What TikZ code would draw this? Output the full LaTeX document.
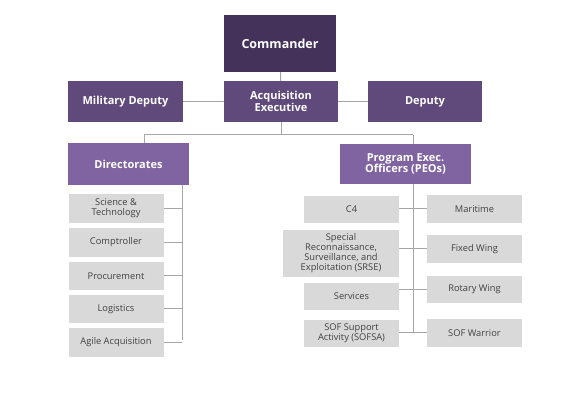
\documentclass[tikz,border=0pt]{standalone}
\usepackage{fontspec}
\setmainfont{Open Sans}
\usepackage{xcolor}
\definecolor{mydark}{HTML}{44325A}
\definecolor{mypurple}{HTML}{604A7B}
\definecolor{mylilac}{HTML}{8064A2}
\definecolor{mygray}{HTML}{D9D9D9}
\definecolor{myline}{HTML}{A6A6A6}
\definecolor{mytext}{HTML}{404040}
\begin{document}
\begin{tikzpicture}[x=1pt,y=-1pt,
head/.style={fill=#1,text=white,font=\fontsize{11}{11.5}\selectfont\bfseries,align=center,inner sep=0pt},
unit/.style={fill=mygray,text=mytext,font=\fontsize{9.3}{10}\selectfont,align=center,inner sep=0pt,minimum width=95pt},
link/.style={draw=myline,line width=1pt}]
\useasboundingbox (0,0) rectangle (576,403);
% top row
\node [head=mydark,minimum width=112pt,minimum height=57pt,font=\fontsize{12.5}{13}\selectfont\bfseries] (cmd) at (280,43.5) {Commander};
\node [head=mypurple,minimum width=114pt,minimum height=41pt] (acq) at (281,101.5) {Acquisition\\Executive};
\node [head=mypurple,minimum width=115pt,minimum height=41pt] (mil) at (125.5,101.5) {Military Deputy};
\node [head=mypurple,minimum width=114pt,minimum height=41pt] (dep) at (425,101.5) {Deputy};
% second row
\node [head=mylilac,minimum width=121pt,minimum height=42pt] (dir) at (128.5,164) {Directorates};
\node [head=mylilac,minimum width=131pt,minimum height=40pt] (peo) at (405.5,164) {Program Exec.\\Officers (PEOs)};
% directorates
\node [unit,minimum height=29pt] (sci) at (116,208.5) {Science \&\\Technology};
\node [unit,minimum height=29pt] (comp) at (116,242.5) {Comptroller};
\node [unit,minimum height=28pt] (proc) at (116,276) {Procurement};
\node [unit,minimum height=28pt] (log) at (116,309) {Logistics};
\node [unit,minimum height=29pt] (agile) at (116,342.5) {Agile Acquisition};
% program executive offices
\node [unit,minimum height=27pt] (c4) at (351.5,209.5) {C4};
\node [unit,minimum width=116pt,minimum height=47pt] (srse) at (341,253.5) {Special\\Reconnaissance,\\Surveillance, and\\Exploitation (SRSE)};
\node [unit,minimum height=27pt] (serv) at (351.5,296.5) {Services};
\node [unit,minimum height=27pt] (sofsa) at (351.5,333.5) {SOF Support\\Activity (SOFSA)};
\node [unit,minimum height=28pt] (mar) at (474.5,209) {Maritime};
\node [unit,minimum height=28pt] (fix) at (474.5,249) {Fixed Wing};
\node [unit,minimum height=27pt] (rot) at (474.5,289.5) {Rotary Wing};
\node [unit,minimum height=28pt] (war) at (474.5,333) {SOF Warrior};
% buses
\coordinate (split) at (281,135);
\coordinate (dirtop) at (144,135);
\coordinate (peotop) at (413,135);
\coordinate (dirbus) at (182,340);
\coordinate (peobus) at (413,333);
% connectors
\draw [link] (cmd) -- (acq);
\draw [link] (acq) -- (mil);
\draw [link] (acq) -- (dep);
\draw [link] (acq) -- (split);
\draw [link] (dirtop) -- (peotop);
\draw [link] (dirtop) -- (dirtop |- dir.north);
\draw [link] (peotop) -- (peotop |- peo.north);
\draw [link] (dirbus |- dir.south) -- (dirbus);
\draw [link] (peotop |- peo.south) -- (peobus);
\foreach \n in {sci,comp,proc,log,agile}
  \draw [link] (\n.east) -- (\n.east -| dirbus);
\foreach \l/\r in {c4/mar,srse/fix,serv/rot,sofsa/war}
  \draw [link] (\l.east |- \r.west) -- (\r.west);
\end{tikzpicture}
\end{document}
